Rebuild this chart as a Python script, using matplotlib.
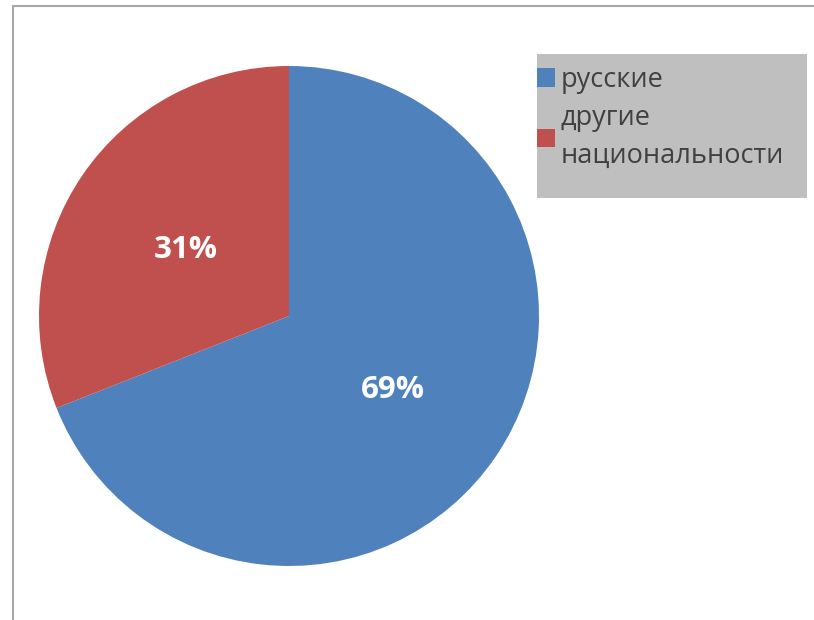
import matplotlib
matplotlib.use("Agg")
import matplotlib.pyplot as plt
import matplotlib.transforms as mtransforms
from matplotlib.lines import Line2D
from matplotlib.patches import Rectangle

labels = ["русские", "другие\nнациональности"]
shares = [69, 31]
colors = ["#4F81BD", "#C0504D"]

W, H = 814, 620
plt.rcParams['font.family'] = ['Open Sans', 'DejaVu Sans']

fig = plt.figure(figsize=(W / 100, H / 100), dpi=100)
fig.patch.set_facecolor("white")

# chart border (left and top edges only are visible)
fig.add_artist(Line2D([13.5 / W, 13.5 / W, 1], [0, 1 - 5.5 / H, 1 - 5.5 / H],
                      transform=fig.transFigure, color="#A6A6A6", lw=1.5))

ax = fig.add_axes([39 / W, 54 / H, 500 / W, 500 / H])
wedges, texts, autotexts = ax.pie(
    shares, colors=colors, startangle=90, counterclock=False,
    autopct='%1.0f%%', pctdistance=0.5,
    textprops=dict(color="white", fontsize=22.5, fontweight="bold"),
)
ax.set_xlim(-1, 1)
ax.set_ylim(-1, 1)
# nudge the percent labels down a little, like the original
for t in autotexts:
    t.set_transform(mtransforms.offset_copy(ax.transData, fig=fig, x=0, y=-4, units="dots"))

# legend background
fig.add_artist(Rectangle((537 / W, 1 - 198 / H), 270 / W, 144 / H,
                         transform=fig.transFigure, facecolor="#BFBFBF",
                         edgecolor="none", zorder=0))
leg = fig.legend(wedges, labels, loc="upper left",
                 bbox_to_anchor=(537 / W, 1 - 66 / H), frameon=False,
                 fontsize=19.5, handlelength=0.67, handleheight=0.67,
                 handletextpad=0.2, borderpad=0, borderaxespad=0,
                 labelspacing=0.38, labelcolor="#404040")
for t in leg.get_texts():
    t.set_linespacing(1.47)

fig.savefig("out.png", dpi=100)
